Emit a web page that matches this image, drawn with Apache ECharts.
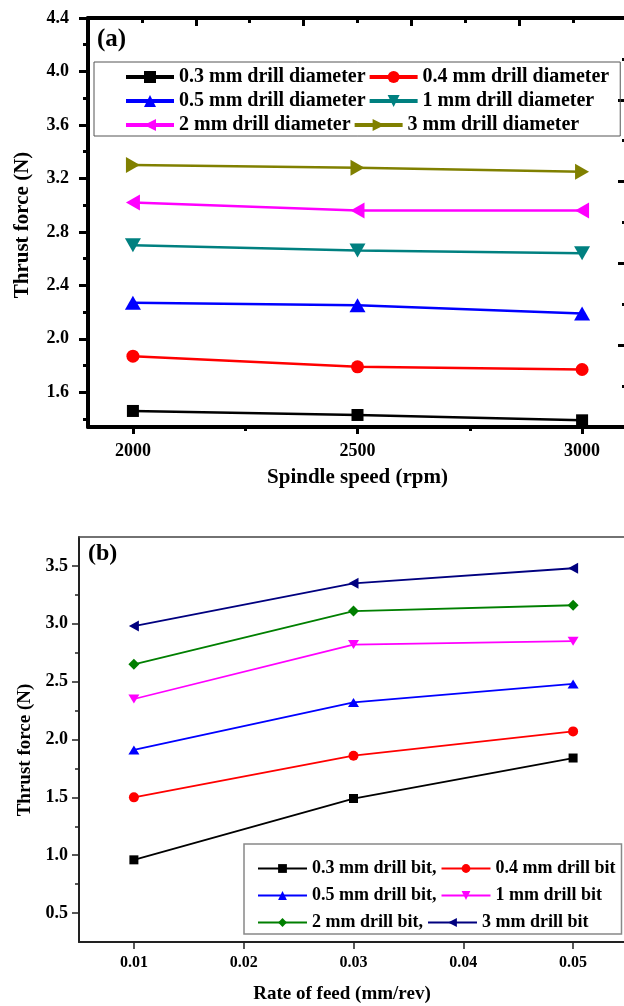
<!DOCTYPE html>
<html>
<head>
<meta charset="utf-8">
<script src="https://cdn.jsdelivr.net/npm/echarts@6/dist/echarts.min.js"></script>
<style>
  html, body { margin: 0; padding: 0; background: #fff; }
  #chart { width: 624px; height: 1006px; }
</style>
</head>
<body>
<div id="chart"></div>
<script>
// ---- (a) thrust force vs spindle speed ----
const spindleSpeeds = [2000, 2500, 3000];
const dia03 = [1.46, 1.43, 1.39];
const dia04 = [1.87, 1.79, 1.77];
const dia05 = [2.27, 2.25, 2.19];
const dia1 = [2.70, 2.66, 2.64];
const dia2 = [3.02, 2.96, 2.96];
const dia3 = [3.30, 3.28, 3.25];
const namesA = ['0.3 mm drill diameter', '0.4 mm drill diameter', '0.5 mm drill diameter',
                '1 mm drill diameter', '2 mm drill diameter', '3 mm drill diameter'];
const speedTicks = [2000, 2500, 3000];
const speedMinorTicks = [2250, 2750];
const forceTicksA = [1.6, 2.0, 2.4, 2.8, 3.2, 3.6, 4.0, 4.4];
const forceMinorTicksA = [1.4, 1.8, 2.2, 2.6, 3.0, 3.4, 3.8, 4.2];

// ---- (b) thrust force vs rate of feed ----
const feedRates = [0.01, 0.03, 0.05];
const bit03 = [0.96, 1.49, 1.84];
const bit04 = [1.50, 1.86, 2.07];
const bit05 = [1.91, 2.32, 2.48];
const bit1 = [2.35, 2.82, 2.85];
const bit2 = [2.65, 3.11, 3.16];
const bit3 = [2.98, 3.35, 3.48];
const namesB = ['0.3 mm drill bit,', '0.4 mm drill bit', '0.5 mm drill bit,',
                '1 mm drill bit', '2 mm drill bit,', '3 mm drill bit'];
const feedTicks = [0.01, 0.02, 0.03, 0.04, 0.05];
const forceTicksB = [0.5, 1.0, 1.5, 2.0, 2.5, 3.0, 3.5];
const forceMinorTicksB = [0.75, 1.25, 1.75, 2.25, 2.75, 3.25];

// ---- styling ----
const serif = "'Liberation Serif', 'Times New Roman', serif";
const txt = (size) => ({ fontFamily: serif, fontWeight: 'bold', fontSize: size, color: '#000' });

const styleA = [
  { color: '#000000', symbol: 'rect', size: 12, rotate: 0 },
  { color: '#ff0000', symbol: 'circle', size: 13, rotate: 0 },
  { color: '#0000ff', symbol: 'triangle', size: [16, 14], rotate: 0 },
  { color: '#008080', symbol: 'triangle', size: [16, 14], rotate: 180 },
  { color: '#ff00ff', symbol: 'triangle', size: [16, 14], rotate: 90 },
  { color: '#808000', symbol: 'triangle', size: [16, 14], rotate: -90 }
];
const styleB = [
  { color: '#000000', symbol: 'rect', size: 9, rotate: 0 },
  { color: '#ff0000', symbol: 'circle', size: 10, rotate: 0 },
  { color: '#0000ff', symbol: 'triangle', size: [11, 9], rotate: 0 },
  { color: '#ff00ff', symbol: 'triangle', size: [11, 9], rotate: 180 },
  { color: '#007f00', symbol: 'diamond', size: [11, 11], rotate: 0 },
  { color: '#00007f', symbol: 'triangle', size: [11, 10], rotate: 90 }
];

const pairs = (xs, ys) => xs.map((x, i) => [x, ys[i]]);

function lineSeries(name, xs, ys, st, axisIdx, width) {
  return {
    type: 'line', name: name,
    xAxisIndex: axisIdx, yAxisIndex: axisIdx,
    data: pairs(xs, ys),
    symbol: st.symbol, symbolSize: st.size, symbolRotate: st.rotate,
    color: st.color,
    itemStyle: { color: st.color },
    lineStyle: { color: st.color, width: width },
    emphasis: { disabled: true },
    animation: false
  };
}

const valuesA = [dia03, dia04, dia05, dia1, dia2, dia3];
const valuesB = [bit03, bit04, bit05, bit1, bit2, bit3];

const series = [];
valuesA.forEach((v, i) => series.push(lineSeries(namesA[i], spindleSpeeds, v, styleA[i], 0, 2.5)));
valuesB.forEach((v, i) => series.push(lineSeries(namesB[i], feedRates, v, styleB[i], 3, 1.8)));

const blackA = { color: '#000', width: 3 };
const axisBlack = { color: '#000', width: 4 };
const darkB = { color: '#222', width: 2 };
const tickB = { color: '#222', width: 1.5 };
const noSplit = { show: false };

const option = {
  backgroundColor: '#fff',
  animation: false,
  title: [
    { text: '(a)', left: 97, top: 27, padding: 0, textStyle: txt(25) },
    { text: '(b)', left: 88, top: 542, padding: 0, textStyle: txt(24) }
  ],
  grid: [
    { left: 88, top: 18, right: -3, bottom: 579, outerBoundsMode: 'none' },
    { left: 88, top: 18, right: -3, bottom: 579, outerBoundsMode: 'none' },
    { left: 79, top: 537, right: -4, bottom: 64, outerBoundsMode: 'none' },
    { left: 79, top: 537, right: -4, bottom: 64, outerBoundsMode: 'none' }
  ],
  legend: [
    {
      data: namesA, left: 94, top: 62, width: 500,
      orient: 'horizontal', padding: [4, 11, 0, 30],
      itemWidth: 48, itemHeight: 15, itemGap: 2,
      borderColor: '#555', borderWidth: 1,
      lineStyle: { width: 4 },
      textStyle: Object.assign(txt(20), { lineHeight: 22 }),
      selectedMode: false
    },
    {
      data: namesB, left: 244, top: 844, width: 420,
      orient: 'horizontal', padding: [13, 6, 0, 13],
      itemWidth: 49, itemHeight: 11, itemGap: 4,
      borderColor: '#888', borderWidth: 1.5,
      lineStyle: { width: 2 },
      textStyle: Object.assign(txt(18), { lineHeight: 23 }),
      selectedMode: false
    }
  ],
  xAxis: [
    { // (a) spindle speed
      gridIndex: 0, type: 'value', position: 'bottom', min: 1900, max: 3100,
      axisLine: { show: true, onZero: false, lineStyle: axisBlack },
      axisTick: { show: true, customValues: speedTicks, length: 7, lineStyle: blackA },
      axisLabel: { show: true, customValues: speedTicks, margin: 15, formatter: v => String(v), ...txt(18) },
      splitLine: noSplit,
      name: 'Spindle speed (rpm)', nameLocation: 'middle', nameGap: 40,
      nameTextStyle: txt(21)
    },
    { // (a) minor speed ticks
      gridIndex: 1, type: 'value', position: 'bottom', min: 1900, max: 3100,
      axisLine: { show: false, onZero: false },
      axisTick: { show: true, customValues: speedMinorTicks, length: 4, lineStyle: blackA },
      axisLabel: { show: false }, splitLine: noSplit
    },
    { // (a) top frame
      gridIndex: 1, type: 'value', position: 'top', min: 0, max: 10, interval: 2,
      axisLine: { show: true, onZero: false, lineStyle: axisBlack },
      axisTick: { show: true, inside: true, length: 8, lineStyle: blackA },
      minorTick: { show: true, splitNumber: 2, length: 5, lineStyle: blackA },
      axisLabel: { show: false }, splitLine: noSplit, minorSplitLine: noSplit
    },
    { // (b) rate of feed
      gridIndex: 2, type: 'value', position: 'bottom', min: 0.005, max: 0.055,
      axisLine: { show: true, onZero: false, lineStyle: darkB },
      axisTick: { show: true, customValues: feedTicks, length: 7, lineStyle: tickB },
      axisLabel: { show: true, customValues: feedTicks, margin: 13, formatter: v => v.toFixed(2), ...txt(16) },
      splitLine: noSplit,
      name: 'Rate of feed (mm/rev)', nameLocation: 'middle', nameGap: 43,
      nameTextStyle: Object.assign(txt(19), { padding: [0, 23, 0, 0] })
    },
    { // (b) top frame
      gridIndex: 3, type: 'value', position: 'top', min: 0, max: 1,
      axisLine: { show: true, onZero: false, lineStyle: { color: '#444', width: 1.5 } },
      axisTick: { show: false }, axisLabel: { show: false }, splitLine: noSplit
    }
  ],
  yAxis: [
    { // (a) thrust force
      gridIndex: 0, type: 'value', position: 'left', min: 1.34, max: 4.4,
      axisLine: { show: true, onZero: false, lineStyle: axisBlack },
      axisTick: { show: true, customValues: forceTicksA, length: 9, lineStyle: blackA },
      axisLabel: { show: true, customValues: forceTicksA, margin: 19, formatter: v => v.toFixed(1), ...txt(18) },
      splitLine: noSplit,
      name: 'Thrust force (N)', nameLocation: 'middle', nameGap: 55, nameRotate: 90,
      nameTextStyle: Object.assign(txt(21), { padding: [0, 5, 0, 0] })
    },
    { // (a) minor force ticks
      gridIndex: 1, type: 'value', position: 'left', min: 1.34, max: 4.4,
      axisLine: { show: false, onZero: false },
      axisTick: { show: true, customValues: forceMinorTicksA, length: 5, lineStyle: blackA },
      axisLabel: { show: false }, splitLine: noSplit
    },
    { // (a) right frame
      gridIndex: 1, type: 'value', position: 'right', min: 0, max: 10, interval: 2,
      axisLine: { show: true, onZero: false, lineStyle: axisBlack },
      axisTick: { show: true, inside: true, length: 9, lineStyle: blackA },
      minorTick: { show: true, splitNumber: 2, length: 5, lineStyle: blackA },
      axisLabel: { show: false }, splitLine: noSplit, minorSplitLine: noSplit
    },
    { // (b) thrust force
      gridIndex: 2, type: 'value', position: 'left', min: 0.25, max: 3.75,
      axisLine: { show: true, onZero: false, lineStyle: darkB },
      axisTick: { show: true, customValues: forceTicksB, length: 7, lineStyle: tickB },
      axisLabel: { show: true, customValues: forceTicksB, margin: 11, formatter: v => v.toFixed(1), ...txt(18) },
      splitLine: noSplit,
      name: 'Thrust force (N)', nameLocation: 'middle', nameGap: 42, nameRotate: 90,
      nameTextStyle: Object.assign(txt(19), { padding: [0, 21, 0, 0] })
    },
    { // (b) minor force ticks
      gridIndex: 3, type: 'value', position: 'left', min: 0.25, max: 3.75,
      axisLine: { show: false, onZero: false },
      axisTick: { show: true, customValues: forceMinorTicksB, length: 4, lineStyle: tickB },
      axisLabel: { show: false }, splitLine: noSplit
    }
  ],
  series: series
};

const chart = echarts.init(document.getElementById('chart'), null, { renderer: 'canvas' });
chart.setOption(option);
</script>
</body>
</html>
